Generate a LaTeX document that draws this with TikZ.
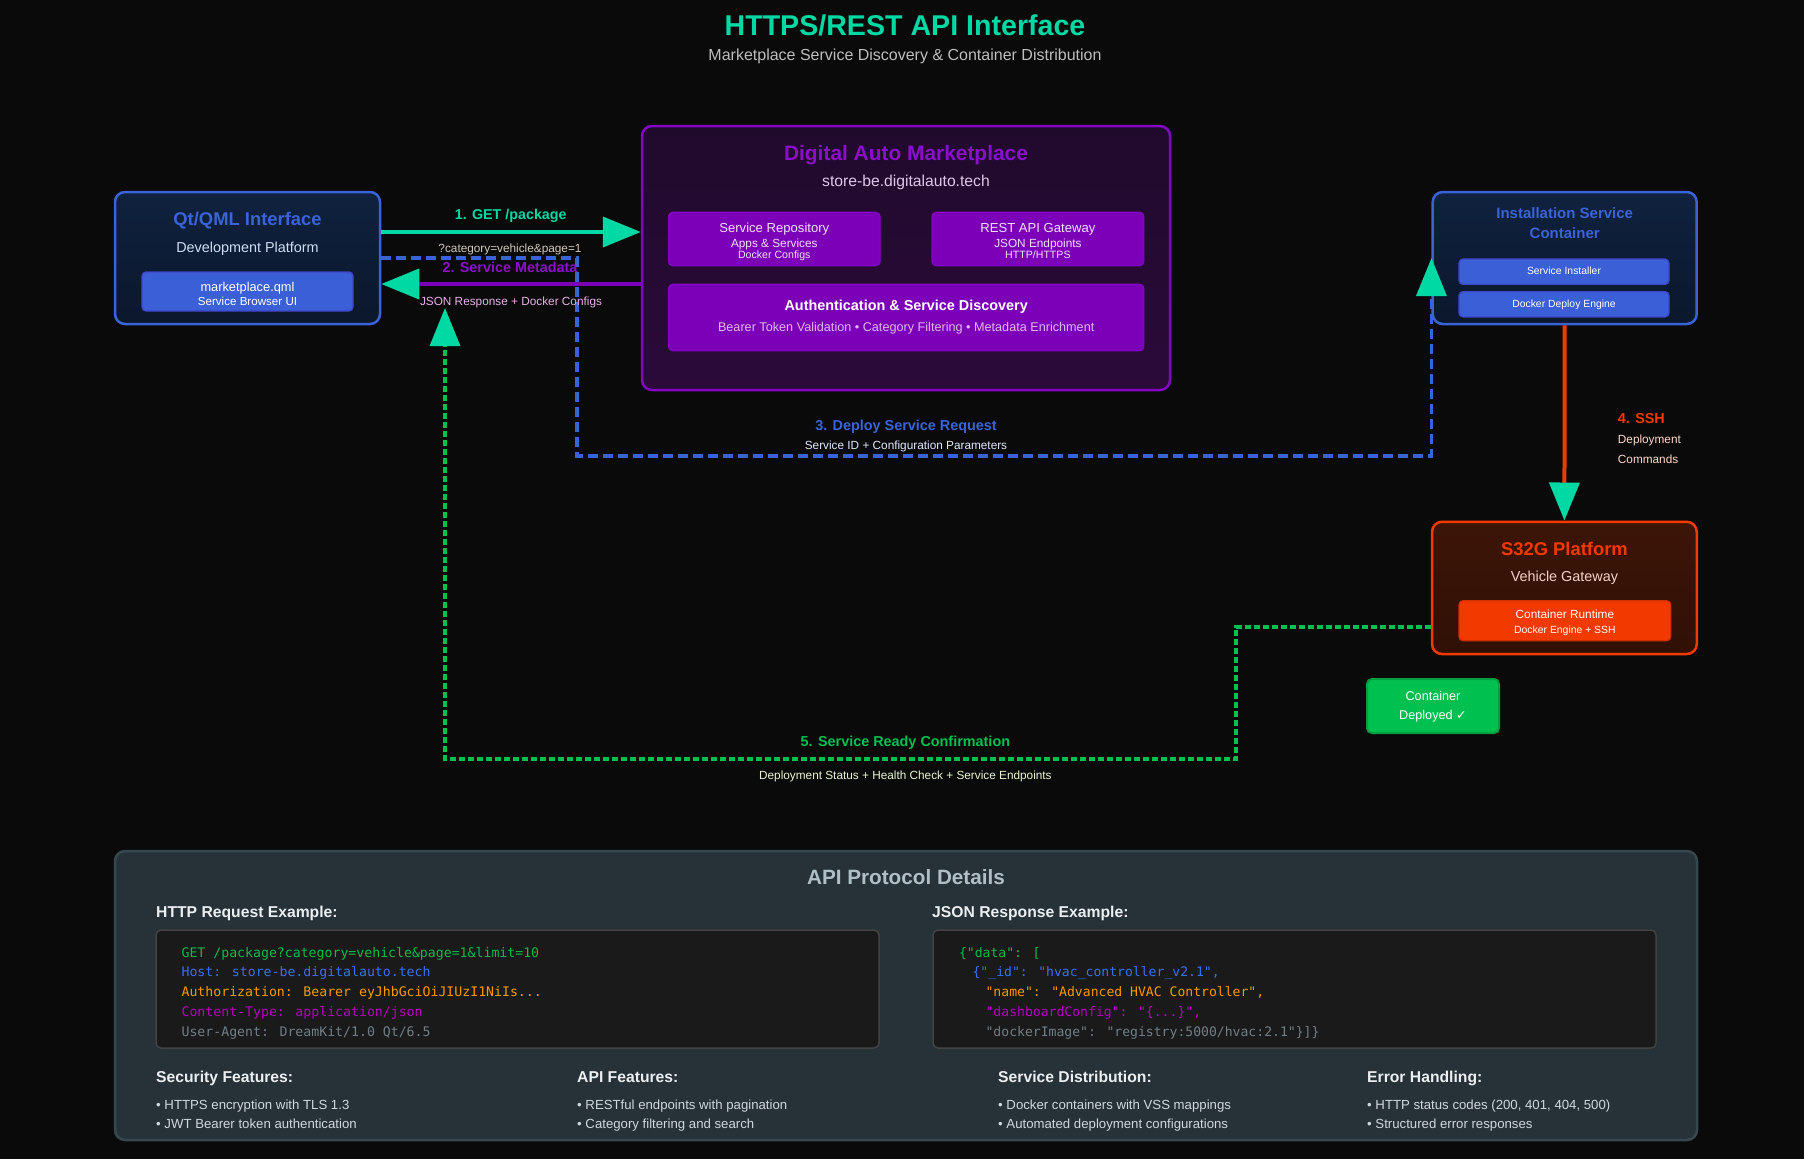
\documentclass[tikz,border=0pt]{standalone}
\usepackage{fontspec}
\setmainfont{Liberation Sans}
\newfontfamily\codefont{DejaVu Sans Mono}
\newfontfamily\checkfont{DejaVu Sans}
\usepackage{xcolor}
\usetikzlibrary{arrows.meta,calc}

\definecolor{bgc}{HTML}{0A0A0A}
\definecolor{tealc}{HTML}{00D9A3}
\definecolor{bluec}{HTML}{3A63D8}
\definecolor{bluefill}{HTML}{3A5FD6}
\definecolor{inedge}{HTML}{4046C8}
\definecolor{purplec}{HTML}{7B00B8}
\definecolor{purpleedge}{HTML}{8205C4}
\definecolor{purpletext}{HTML}{8A10C8}
\definecolor{redc}{HTML}{F23A00}
\definecolor{rededge}{HTML}{D03000}
\definecolor{greenc}{HTML}{00C04F}
\definecolor{greenedge}{HTML}{00A040}
\definecolor{qttop}{HTML}{10223F}
\definecolor{qtbot}{HTML}{0B172C}
\definecolor{mkttop}{HTML}{200A2C}
\definecolor{mktbot}{HTML}{2B0A3A}
\definecolor{s32top}{HTML}{3C1507}
\definecolor{s32bot}{HTML}{301006}
\definecolor{subc}{HTML}{BDBDBD}
\definecolor{paleblue}{HTML}{D0DCF0}
\definecolor{beige}{HTML}{D0C8B8}
\definecolor{pinkc}{HTML}{E8B0E8}
\definecolor{lilac}{HTML}{DCC8E6}
\definecolor{palepurple}{HTML}{F0E0F8}
\definecolor{palepink}{HTML}{E0B8EC}
\definecolor{paleblue2}{HTML}{E0E8FF}
\definecolor{peach}{HTML}{FFD8C8}
\definecolor{peach2}{HTML}{F0D0C8}
\definecolor{paleyellow}{HTML}{E8F5D0}
\definecolor{panelc}{HTML}{263238}
\definecolor{paneledge}{HTML}{37474F}
\definecolor{paneltitle}{HTML}{B0BEC5}
\definecolor{headc}{HTML}{ECEFF1}
\definecolor{bulletc}{HTML}{CFD8DC}
\definecolor{codebg}{HTML}{1A1A1A}
\definecolor{codeedge}{HTML}{424242}
\definecolor{codegreen}{HTML}{10B848}
\definecolor{codeblue}{HTML}{3A70EE}
\definecolor{codeorange}{HTML}{F59A00}
\definecolor{codemagenta}{HTML}{B000B8}
\definecolor{codegray}{HTML}{6F7F88}

\newcommand{\fsz}[1]{\fontsize{#1}{#1}\selectfont}

\begin{document}
\begin{tikzpicture}[x=1pt, y=-1pt, >={Triangle[length=38pt,width=30pt,color=tealc]},
  bigbox/.style={draw, line width=2.5pt, rounded corners=10pt, inner sep=0pt},
  inbox/.style={draw, line width=1.2pt, rounded corners=4pt, inner sep=0pt},
  txt/.style={anchor=base, inner sep=0pt},
  flow/.style={line width=4pt},
  deploy/.style={bluec, line width=3.5pt, dash pattern=on 10pt off 5pt},
  confirm/.style={greenc, line width=3.5pt, dash pattern=on 6pt off 3pt}]

\useasboundingbox (0,0) rectangle (1804,1159);
\fill[bgc] (0,0) rectangle (1804,1159);

\node (title) at (905,35) [txt, text=tealc, font=\fsz{28.6}\bfseries] {HTTPS/REST API Interface};
\node (subtitle) at (905,60.5) [txt, text=subc, font=\fsz{16}] {Marketplace Service Discovery \& Container Distribution};

% Qt/QML side
\node (qt) at (247.5,258) [bigbox, draw=bluec, top color=qttop, bottom color=qtbot, minimum width=265pt, minimum height=132pt] {};
\node (qttitle) at (247.5,225.5) [txt, text=bluec, font=\fsz{18.4}\bfseries] {Qt/QML Interface};
\node (qtsub) at (247.5,252) [txt, text=paleblue, font=\fsz{14.4}] {Development Platform};
\node (qml) at (247.5,291.5) [inbox, draw=inedge, fill=bluefill, minimum width=211pt, minimum height=39pt] {};
\node (qmla) at (247.5,291.7) [txt, text=white, font=\fsz{12.8}] {marketplace.qml};
\node (qmlb) at (247.5,305) [txt, text=white, font=\fsz{11.6}] {Service Browser UI};

% marketplace
\node (mkt) at (906,258) [bigbox, draw=purpleedge, top color=mkttop, bottom color=mktbot, minimum width=528pt, minimum height=264pt] {};
\node (mkttitle) at (906,160.7) [txt, text=purpletext, font=\fsz{20.9}\bfseries] {Digital Auto Marketplace};
\node (mktsub) at (906,186) [txt, text=lilac, font=\fsz{15.7}] {store-be.digitalauto.tech};
\node (repo) at (774.3,239) [inbox, draw=purpleedge, fill=purplec, minimum width=211.4pt, minimum height=53.4pt] {};
\node (repoa) at (774.3,232) [txt, text=palepurple, font=\fsz{13.1}] {Service Repository};
\node (repob) at (774.3,247.7) [txt, text=palepurple, font=\fsz{11.8}] {Apps \& Services};
\node (repoc) at (774.3,258) [txt, text=palepurple, font=\fsz{10.6}] {Docker Configs};
\node (gate) at (1037.9,239) [inbox, draw=purpleedge, fill=purplec, minimum width=211.8pt, minimum height=53.4pt] {};
\node (gatea) at (1037.9,232) [txt, text=palepurple, font=\fsz{13.1}] {REST API Gateway};
\node (gateb) at (1037.9,247.7) [txt, text=palepurple, font=\fsz{11.8}] {JSON Endpoints};
\node (gatec) at (1037.9,258) [txt, text=palepurple, font=\fsz{10.6}] {HTTP/HTTPS};
\node (auth) at (906.2,317.5) [inbox, draw=purpleedge, fill=purplec, minimum width=475.2pt, minimum height=66.4pt] {};
\node (autha) at (906.2,310.7) [txt, text=white, font=\fsz{14.4}\bfseries] {Authentication \& Service Discovery};
\node (authb) at (906.2,331) [txt, text=palepink, font=\fsz{12.65}] {Bearer Token Validation • Category Filtering • Metadata Enrichment};

% installation container
\node (inst) at (1564.7,258) [bigbox, draw=bluec, top color=qttop, bottom color=qtbot, minimum width=264pt, minimum height=132pt] {};
\node (insttitle) at (1564.7,218.5) [txt, text=bluec, font=\fsz{15}\bfseries] {Installation Service};
\node (insttitleb) at (1564.7,238.5) [txt, text=bluec, font=\fsz{15}\bfseries] {Container};
\node (insta) at (1564,271.7) [inbox, draw=inedge, fill=bluefill, minimum width=210pt, minimum height=25.3pt] {};
\node (instatxt) at (1564,274) [txt, text=white, font=\fsz{10.4}] {Service Installer};
\node (instb) at (1564,304.3) [inbox, draw=inedge, fill=bluefill, minimum width=210pt, minimum height=25.3pt] {};
\node (instbtxt) at (1564,307) [txt, text=white, font=\fsz{10.4}] {Docker Deploy Engine};

% S32G
\node (s32g) at (1564.4,587.9) [bigbox, draw=redc, top color=s32top, bottom color=s32bot, minimum width=264.7pt, minimum height=132.3pt] {};
\node (s32gtitle) at (1564.4,555.5) [txt, text=redc, font=\fsz{18.4}\bfseries] {S32G Platform};
\node (s32gsub) at (1564.4,581) [txt, text=peach2, font=\fsz{14.4}] {Vehicle Gateway};
\node (rt) at (1564.9,620.7) [inbox, draw=rededge, fill=redc, minimum width=211.7pt, minimum height=40pt] {};
\node (rta) at (1564.9,618) [txt, text=white, font=\fsz{11.8}] {Container Runtime};
\node (rtb) at (1564.9,633.7) [txt, text=white, font=\fsz{10.4}] {Docker Engine + SSH};

\node (done) at (1433,706) [inbox, draw=greenedge, fill=greenc, line width=2pt, rounded corners=5pt, minimum width=132pt, minimum height=54pt] {};
\node (donea) at (1433,700) [txt, text=white, font=\fsz{12.65}] {Container};
\node (doneb) at (1433,719) [txt, text=white, font=\fsz{12.65}] {Deployed {\checkfont ✓}};

% flows
\coordinate (turn3) at (577,456);
\coordinate (turn5) at (1236,759);
\coordinate (ready) at (445,308);

\draw[flow, tealc, ->] ($(qt.east)+(0,-26)$) -- ($(mkt.west)+(0,-26)$);
\draw[flow, purplec, ->] ($(mkt.west)+(0,26)$) -- ($(qt.east)+(0,26)$);
\draw[deploy, ->] (qt.east) -| (turn3) -| (inst.west);
\draw[flow, redc, ->] (inst.south) -- (s32g.north);
\draw[confirm, ->] ($(s32g.west)+(0,39)$) -| (turn5) -| (ready);

\node (get) at (510.7,219) [txt, text=tealc, font=\fsz{14.3}\bfseries] {1. GET /package};
\node (getq) at (510,252) [txt, text=beige, font=\fsz{11.8}] {?category=vehicle\&page=1};
\node (meta) at (510,272) [txt, text=purpletext, font=\fsz{14.4}\bfseries] {2. Service Metadata};
\node (metab) at (511,305) [txt, text=pinkc, font=\fsz{11.8}] {JSON Response + Docker Configs};
\node (req) at (906,430) [txt, text=bluec, font=\fsz{14.4}\bfseries] {3. Deploy Service Request};
\node (reqb) at (906,449) [txt, text=paleblue2, font=\fsz{11.8}] {Service ID + Configuration Parameters};
\node (ssh) at (1617.7,423) [txt, anchor=base west, text=redc, font=\fsz{14.4}\bfseries] {4. SSH};
\node (sshb) at (1617.7,443) [txt, anchor=base west, text=peach, font=\fsz{11.8}] {Deployment};
\node (sshc) at (1617.7,463) [txt, anchor=base west, text=peach, font=\fsz{11.8}] {Commands};
\node (conf) at (905.4,746) [txt, text=greenc, font=\fsz{14.4}\bfseries] {5. Service Ready Confirmation};
\node (confb) at (905.4,779) [txt, text=paleyellow, font=\fsz{11.8}] {Deployment Status + Health Check + Service Endpoints};

% protocol panel
\node (panel) at (906,995.5) [draw=paneledge, fill=panelc, line width=2.5pt, rounded corners=10pt, inner sep=0pt, minimum width=1582pt, minimum height=289pt] {};
\node (paneltitle) at (906,884) [txt, text=paneltitle, font=\fsz{20.7}\bfseries] {API Protocol Details};
\node (httphead) at (156,917.5) [txt, anchor=base west, text=headc, font=\fsz{15.7}\bfseries] {HTTP Request Example:};
\node (jsonhead) at (932,917.5) [txt, anchor=base west, text=headc, font=\fsz{15.7}\bfseries] {JSON Response Example:};
\node (code1) at (517.5,989) [draw=codeedge, fill=codebg, line width=1.5pt, rounded corners=5pt, inner sep=0pt, minimum width=723pt, minimum height=118pt] {};
\node (code2) at (1294.5,989) [draw=codeedge, fill=codebg, line width=1.5pt, rounded corners=5pt, inner sep=0pt, minimum width=723pt, minimum height=118pt] {};

\foreach \y/\c/\t [count=\i] in {957/codegreen/{GET /package?category=vehicle\&page=1\&limit=10},
  976.8/codeblue/{Host: store-be.digitalauto.tech},
  996.6/codeorange/{Authorization: Bearer eyJhbGciOiJIUzI1NiIs...},
  1016.4/codemagenta/{Content-Type: application/json},
  1036.2/codegray/{User-Agent: DreamKit/1.0 Qt/6.5}}
  \node (req\i) at (181.4,\y) [txt, anchor=base west, text=\c, font=\codefont\fsz{13.2}] {\t};

\foreach \x/\y/\c/\t [count=\i] in {958.8/957/codegreen/{\{"data": [},
  972.4/976.8/codeblue/{\{"\_id": "hvac\_controller\_v2.1",},
  985.4/996.6/codeorange/{"name": "Advanced HVAC Controller",},
  985.4/1016.4/codemagenta/{"dashboardConfig": "\{...\}",},
  985.4/1036.2/codegray/{"dockerImage": "registry:5000/hvac:2.1"\}]\}}}
  \node (res\i) at (\x,\y) [txt, anchor=base west, text=\c, font=\codefont\fsz{13.1}] {\t};

\foreach \x/\head/\a/\b [count=\i] in {156/Security Features:/HTTPS encryption with TLS 1.3/JWT Bearer token authentication,
  577/API Features:/RESTful endpoints with pagination/Category filtering and search,
  998/Service Distribution:/Docker containers with VSS mappings/Automated deployment configurations,
  1367/Error Handling:/{HTTP status codes (200, 401, 404, 500)}/Structured error responses}
{
  \node (top\i) at (\x,1082.5) [txt, anchor=base west, text=headc, font=\fsz{15.7}\bfseries] {\head};
  \node (bula\i) at (\x,1109) [txt, anchor=base west, text=bulletc, font=\fsz{13.2}] {• \a};
  \node (bulb\i) at (\x,1128.5) [txt, anchor=base west, text=bulletc, font=\fsz{13.2}] {• \b};
}

\end{tikzpicture}
\end{document}
